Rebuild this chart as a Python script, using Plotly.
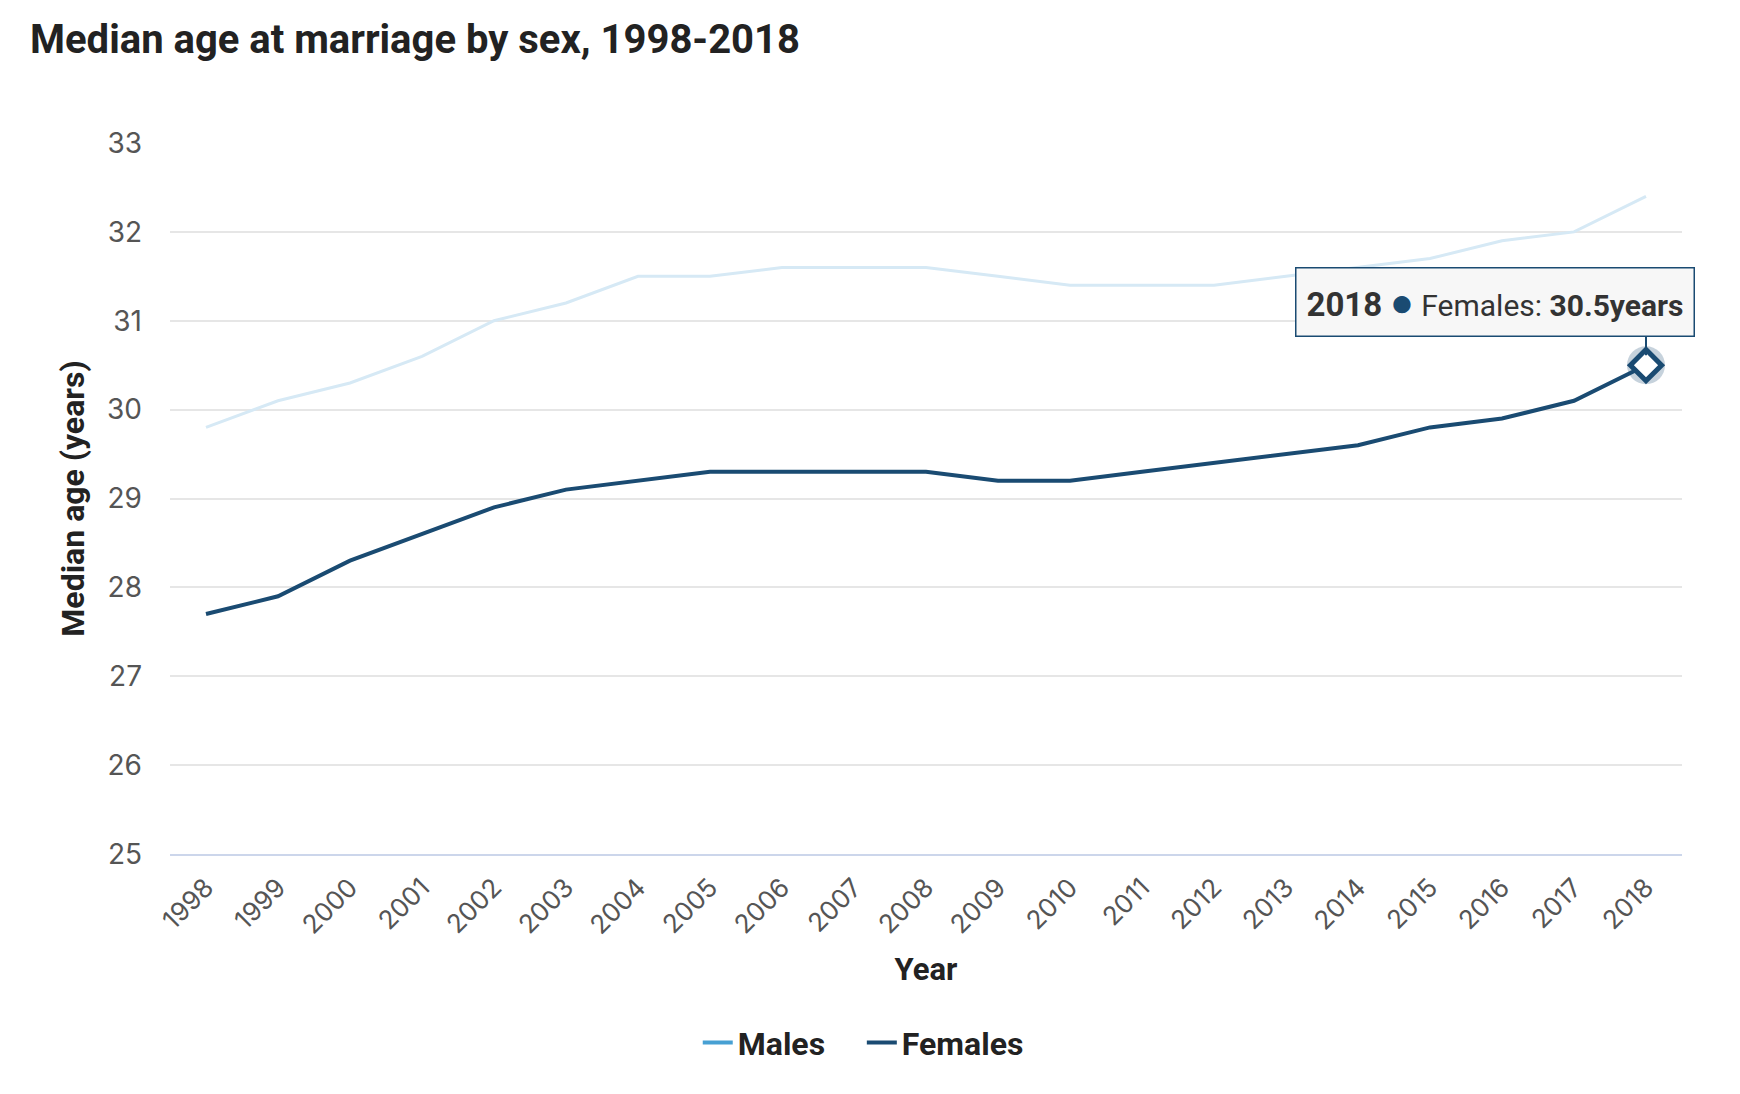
import plotly.graph_objects as go

years = [str(y) for y in range(1998, 2019)]
males = [29.8, 30.1, 30.3, 30.6, 31.0, 31.2, 31.5, 31.5, 31.6, 31.6, 31.6,
         31.5, 31.4, 31.4, 31.4, 31.5, 31.6, 31.7, 31.9, 32.0, 32.4]
females = [27.7, 27.9, 28.3, 28.6, 28.9, 29.1, 29.2, 29.3, 29.3, 29.3, 29.3,
           29.2, 29.2, 29.3, 29.4, 29.5, 29.6, 29.8, 29.9, 30.1, 30.5]

MALE = "#47a0d3"
MALE_FADED = "#d6e9f5"
FEMALE = "#1a4b72"
FONT = "Roboto"
TICKFONT = "Inter"

fig = go.Figure()

fig.add_trace(go.Scatter(x=years, y=males, mode="lines", name="Males",
                         line=dict(color=MALE_FADED, width=3), showlegend=False,
                         hoverinfo="skip"))
fig.add_trace(go.Scatter(x=years, y=females, mode="lines", name="Females",
                         line=dict(color=FEMALE, width=4), showlegend=False,
                         hoverinfo="skip"))
fig.add_trace(go.Scatter(x=[None], y=[None], mode="lines",
                         name="<b>Males</b>&nbsp;&nbsp;&nbsp;&nbsp;",
                         line=dict(color=MALE, width=4)))
fig.add_trace(go.Scatter(x=[None], y=[None], mode="lines", name="<b>Females</b>",
                         line=dict(color=FEMALE, width=4)))

fig.add_trace(go.Scatter(x=[years[-1]], y=[females[-1]], mode="markers",
                         marker=dict(size=38, color=FEMALE, opacity=0.25),
                         showlegend=False, hoverinfo="skip"))
fig.add_trace(go.Scatter(x=[years[-1]], y=[females[-1]], mode="markers",
                         marker=dict(symbol="diamond", size=24, color="white",
                                     line=dict(color=FEMALE, width=5)),
                         showlegend=False, hoverinfo="skip"))

tip_text = ("<span style=\"font-size:33px\"><b>" + years[-1] + "</b></span> "
            "<span style=\"color:" + FEMALE + ";font-size:40px\">\u25cf</span> "
            "Females: <b>" + str(females[-1]) + "years</b>")

last = len(years) - 1
# pointer
fig.add_annotation(
    x=last, y=females[-1], xref="x", yref="y", text="",
    showarrow=True, arrowhead=0, arrowcolor=FEMALE, arrowwidth=2,
    ax=0, ay=-30, standoff=10,
)
# tooltip box
fig.add_annotation(
    x=last, y=females[-1], xref="x", yref="y",
    text=tip_text, showarrow=False, xshift=-151, yshift=63,
    bgcolor="#f7f7f7", bordercolor=FEMALE, borderwidth=1.5, borderpad=10,
    font=dict(family=FONT, size=30, color="#333333"),
)

fig.update_layout(
    width=1740, height=1094,
    paper_bgcolor="white", plot_bgcolor="white",
    margin=dict(l=162, r=66, t=135, b=248),
    title=dict(text="<b>Median age at marriage by sex, 1998-2018</b>",
               x=22 / 1740, xanchor="left", y=1 - 31 / 1094, yanchor="middle",
               font=dict(family=FONT, size=40, color="#222222")),
    legend=dict(orientation="h", x=0.4585, xanchor="center", y=-0.2655,
                yanchor="middle", font=dict(family=FONT, size=32, color="#222222"),
                itemwidth=30, tracegroupgap=0, traceorder="normal"),
    showlegend=True,
    hovermode=False,
)

fig.update_xaxes(
    type="category", range=[-0.5, 20.5],
    tickangle=-45, tickfont=dict(family=TICKFONT, size=26, color="#555555"),
    showgrid=False, showline=True, linecolor="#ccd6eb", linewidth=2,
    ticks="", ticklabelstandoff=6,
    title=dict(text="<b>Year</b>", font=dict(family=FONT, size=31, color="#222222"),
               standoff=19),
)
fig.update_yaxes(
    range=[25, 33], dtick=1, tick0=25,
    tickfont=dict(family=TICKFONT, size=28, color="#555555"),
    showgrid=True, gridcolor="#e6e6e6", gridwidth=1.5, zeroline=False,
    ticks="", ticklabelstandoff=27,
    title=dict(text="<b>Median age (years)</b>",
               font=dict(family=FONT, size=32, color="#222222"), standoff=12),
)

fig.write_html("out.html")
